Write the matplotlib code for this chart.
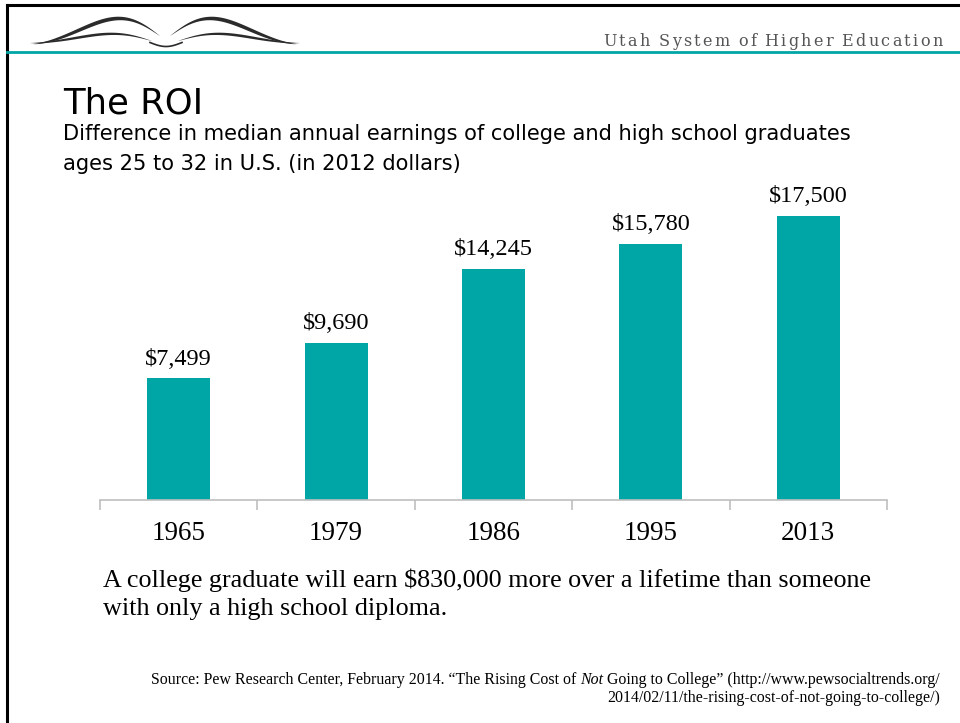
import numpy as np
import matplotlib.pyplot as plt

# Data
years = ['1965', '1979', '1986', '1995', '2013']
earnings_gap = [7499, 9690, 14245, 15780, 17500]
bar_labels = ['$7,499', '$9,690', '$14,245', '$15,780', '$17,500']

TEAL = '#00A6A6'
W, H = 960, 723

fig = plt.figure(figsize=(W / 100, H / 100), dpi=100)

# overlay in pixel coordinates for the slide decoration
deco = fig.add_axes([0, 0, 1, 1])
deco.set_xlim(0, W)
deco.set_ylim(H, 0)
deco.axis('off')

# frame lines (top and left)
deco.plot([7, W], [5, 5], color='black', lw=2.2)
deco.plot([7, 7], [5, H], color='black', lw=2.2)
# teal header rule
deco.plot([7, W], [52, 52], color=TEAL, lw=2)


def crescent(x0, x1, ytop, ybot, peak, thick, side, skew=1.6):
    # a tapered wing shape between two curves
    t = np.linspace(0, 1, 80)
    xs = x0 + (x1 - x0) * t
    base = ybot + (ytop - ybot) * t
    s = t if side == 'left' else 1 - t
    bump = np.sin(np.pi * s ** skew)
    upper = base - peak * bump
    lower = upper + thick * np.sin(np.pi * t) ** 0.8
    deco.fill(np.r_[xs, xs[::-1]], np.r_[upper, lower[::-1]], color='#2b2b2b', lw=0)


# logo: open-book wings
crescent(33, 160, 36, 44, 22, 4.0, 'left')
crescent(30, 152, 41, 43, 9, 2.6, 'left')
crescent(170, 297, 44, 36, 22, 4.0, 'right')
crescent(178, 300, 43, 41, 9, 2.6, 'right')
tc = np.linspace(0, 1, 40)
deco.plot(150 + 32 * tc, 42.5 + 4 * np.sin(np.pi * tc), color='#2b2b2b', lw=1.2)

# header text with letter spacing
renderer = fig.canvas.get_renderer()
header = 'Utah System of Higher Education'
x = 603
for ch in header:
    t = deco.text(x, 46, ch, fontsize=11.5, family='DejaVu Serif', color='#555555',
                  va='baseline', ha='left')
    bb = t.get_window_extent(renderer)
    x += bb.width + 2.3 if ch != ' ' else 6.3

# titles
fig.text(63 / W, 1 - 113 / H, 'The ROI', fontsize=25.5, family='DejaVu Sans',
         va='baseline', ha='left')
fig.text(63 / W, 1 - 140 / H,
         'Difference in median annual earnings of college and high school graduates',
         fontsize=15.1, family='DejaVu Sans', va='baseline', ha='left')
fig.text(63 / W, 1 - 170 / H, 'ages 25 to 32 in U.S. (in 2012 dollars)',
         fontsize=15.1, family='DejaVu Sans', va='baseline', ha='left')

# bar chart
ax = fig.add_axes([100 / W, 1 - 500 / H, 787 / W, 325 / H])
xpos = np.arange(len(years))
bars = ax.bar(xpos, earnings_gap, width=0.4, color=TEAL)
ax.set_xlim(-0.5, len(years) - 0.5)
ax.set_ylim(0, 20000)
for b, lab in zip(bars, bar_labels):
    ax.annotate(lab, (b.get_x() + b.get_width() / 2, b.get_height()),
                xytext=(0, 6), textcoords='offset points', ha='center', va='bottom',
                fontsize=17.5, family='Liberation Serif')

for s in ['top', 'right', 'left']:
    ax.spines[s].set_visible(False)
ax.spines['bottom'].set_color('#BFBFBF')
ax.spines['bottom'].set_linewidth(1.2)
ax.set_yticks([])
ax.set_xticks(xpos)
ax.set_xticklabels(years, fontsize=19.5, family='Liberation Serif')
ax.tick_params(axis='x', which='major', length=0, pad=15)
ax.set_xticks(np.arange(len(years) + 1) - 0.5, minor=True)
ax.tick_params(axis='x', which='minor', length=7, color='#BFBFBF', width=1.2)
ax.patch.set_alpha(0)

# takeaway text
fig.text(103 / W, 1 - 587 / H,
         'A college graduate will earn $830,000 more over a lifetime than someone',
         fontsize=18.8, family='Liberation Serif', va='baseline', ha='left')
fig.text(103 / W, 1 - 615 / H, 'with only a high school diploma.',
         fontsize=18.8, family='Liberation Serif', va='baseline', ha='left')

# source, right aligned, with italic "Not"
src_kw = dict(fontsize=11.4, family='Liberation Serif', va='baseline')
right = 940
y1 = 684
pieces = [('Source: Pew Research Center, February 2014. \u201cThe Rising Cost of ', 'normal'),
          ('Not', 'italic'),
          (' Going to College\u201d (http://www.pewsocialtrends.org/', 'normal')]
x = right
for txt, style in reversed(pieces):
    t = deco.text(x, y1, txt, ha='right', style=style, **src_kw)
    x -= t.get_window_extent(renderer).width
deco.text(right, 702, '2014/02/11/the-rising-cost-of-not-going-to-college/)', ha='right', **src_kw)

fig.savefig('out.png', dpi=100)
